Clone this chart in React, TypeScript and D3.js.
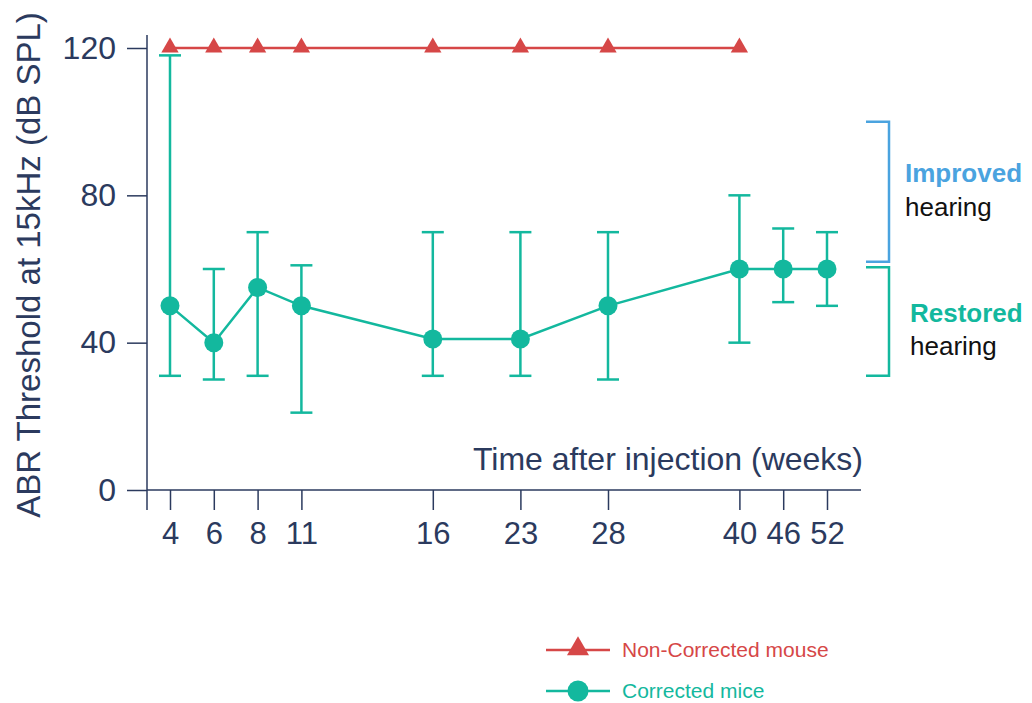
import * as d3 from 'd3';
import React, {useEffect, useRef} from 'react';

// weeks after injection, and their slot on the (uneven) x axis
const weeks = ['4', '6', '8', '11', '16', '23', '28', '40', '46', '52'];
const slots = [0, 1, 2, 3, 6, 8, 10, 13, 14, 15];

// corrected mice: mean threshold and error bar ends
const correctedMean = [50, 40, 55, 50, 41, 41, 50, 60, 60, 60];
const correctedHigh = [118, 60, 70, 61, 70, 70, 70, 80, 71, 70];
const correctedLow = [31, 30, 31, 21, 31, 31, 30, 40, 51, 50];

// non-corrected mouse
const nonCorrectedWeeks = ['4', '6', '8', '11', '16', '23', '28', '40'];
const nonCorrected = [120, 120, 120, 120, 120, 120, 120, 120];

const yTicks = [0, 40, 80, 120];

const RED = '#d64747';
const TEAL = '#13b89e';
const BLUE = '#4aa3df';
const NAVY = '#2b3a5e';
const FONT = 'Liberation Sans, Arial, sans-serif';

export default function App() {
    const ref = useRef<SVGSVGElement>(null);

    useEffect(() => {
        const svg = d3.select(ref.current);
        svg.selectAll('*').remove();

        const x = d3.scaleLinear().domain([0, 15]).range([170, 827]);
        const y = d3.scaleLinear().domain([0, 120]).range([490, 48]);
        const xOf = (w: string) => x(slots[weeks.indexOf(w)]);

        // y axis
        const yAxis = svg.append('g')
            .attr('transform', 'translate(147,0)')
            .call(d3.axisLeft(y).tickValues(yTicks).tickSize(20).tickPadding(11));
        yAxis.select('.domain').remove();
        yAxis.selectAll('line').attr('stroke', NAVY).attr('stroke-width', 1.5);
        yAxis.selectAll('text')
            .attr('fill', NAVY)
            .style('font-family', FONT)
            .style('font-size', '32px');
        svg.append('line')
            .attr('x1', 147).attr('x2', 147)
            .attr('y1', 35).attr('y2', 510)
            .attr('stroke', NAVY).attr('stroke-width', 1.5);

        // x axis
        svg.append('line')
            .attr('x1', 147).attr('x2', 861)
            .attr('y1', y(0)).attr('y2', y(0))
            .attr('stroke', NAVY).attr('stroke-width', 1.5);
        const xAxis = svg.append('g')
            .attr('transform', `translate(0,${y(0)})`)
            .call(d3.axisBottom(x).tickValues(slots)
                .tickFormat((d, i) => weeks[i]).tickSize(20).tickPadding(12));
        xAxis.select('.domain').remove();
        xAxis.selectAll('line').attr('stroke', NAVY).attr('stroke-width', 1.5);
        xAxis.selectAll('text')
            .attr('fill', NAVY)
            .style('font-family', FONT)
            .style('font-size', '31px');

        // axis titles
        svg.append('text')
            .attr('x', 863).attr('y', 470)
            .attr('text-anchor', 'end')
            .attr('fill', NAVY)
            .style('font-family', FONT)
            .style('font-size', '32px')
            .text('Time after injection (weeks)');
        svg.append('text')
            .attr('transform', 'translate(40,265) rotate(-90)')
            .attr('text-anchor', 'middle')
            .attr('fill', NAVY)
            .style('font-family', FONT)
            .style('font-size', '33px')
            .text('ABR Threshold at 15kHz (dB SPL)');

        // non-corrected line
        svg.append('path')
            .datum(nonCorrected)
            .attr('d', d3.line<number>()
                .x((d, i) => xOf(nonCorrectedWeeks[i]))
                .y((d) => y(d)))
            .attr('fill', 'none')
            .attr('stroke', RED)
            .attr('stroke-width', 2.5);

        // corrected error bars
        const bars = svg.append('g').attr('stroke', TEAL).attr('stroke-width', 2.5);
        weeks.forEach((w, i) => {
            const cx = xOf(w);
            bars.append('line')
                .attr('x1', cx).attr('x2', cx)
                .attr('y1', y(correctedHigh[i])).attr('y2', y(correctedLow[i]));
            [correctedHigh[i], correctedLow[i]].forEach((v) => {
                bars.append('line')
                    .attr('x1', cx - 11).attr('x2', cx + 11)
                    .attr('y1', y(v)).attr('y2', y(v));
            });
        });

        // corrected line + points
        svg.append('path')
            .datum(correctedMean)
            .attr('d', d3.line<number>()
                .x((d, i) => xOf(weeks[i]))
                .y((d) => y(d)))
            .attr('fill', 'none')
            .attr('stroke', TEAL)
            .attr('stroke-width', 2.5);
        svg.append('g').selectAll('circle')
            .data(correctedMean)
            .enter()
            .append('circle')
            .attr('cx', (d, i) => xOf(weeks[i]))
            .attr('cy', (d) => y(d))
            .attr('r', 9.5)
            .attr('fill', TEAL);

        // triangles on top
        const tri = d3.symbol().type(d3.symbolTriangle).size(130);
        svg.append('g').selectAll('path')
            .data(nonCorrected)
            .enter()
            .append('path')
            .attr('d', tri)
            .attr('transform', (d, i) => `translate(${xOf(nonCorrectedWeeks[i])},${y(d) - 0.5})`)
            .attr('fill', RED);

        // brackets
        svg.append('path')
            .attr('d', `M866,${y(100)}H889V${y(62)}H866`)
            .attr('fill', 'none').attr('stroke', BLUE).attr('stroke-width', 2.5);
        svg.append('path')
            .attr('d', `M866,${y(60.5)}H889V${y(31)}H866`)
            .attr('fill', 'none').attr('stroke', TEAL).attr('stroke-width', 2.5);

        const note = (tx: number, ty: number, txt: string, color: string, bold: boolean) => {
            svg.append('text')
                .attr('x', tx).attr('y', ty)
                .attr('fill', color)
                .style('font-family', FONT)
                .style('font-size', '26px')
                .style('font-weight', bold ? 'bold' : 'normal')
                .text(txt);
        };
        note(905, 182, 'Improved', BLUE, true);
        note(905, 216, 'hearing', '#111', false);
        note(910, 322, 'Restored', TEAL, true);
        note(910, 355, 'hearing', '#111', false);

        // legend
        const legend = [
            {label: 'Non-Corrected mouse', color: RED, shape: 'tri'},
            {label: 'Corrected mice', color: TEAL, shape: 'circle'},
        ];
        legend.forEach((l, i) => {
            const ly = 650 + i * 41;
            svg.append('line')
                .attr('x1', 546).attr('x2', 610)
                .attr('y1', ly).attr('y2', ly)
                .attr('stroke', l.color).attr('stroke-width', 2.5);
            if (l.shape === 'tri') {
                svg.append('path')
                    .attr('d', d3.symbol().type(d3.symbolTriangle).size(210)())
                    .attr('transform', `translate(578,${ly - 1})`)
                    .attr('fill', l.color);
            } else {
                svg.append('circle')
                    .attr('cx', 578).attr('cy', ly).attr('r', 10.5)
                    .attr('fill', l.color);
            }
            svg.append('text')
                .attr('x', 622).attr('y', ly + 7)
                .attr('fill', l.color)
                .style('font-family', FONT)
                .style('font-size', '21px')
                .text(l.label);
        });
    }, []);

    return (
        <svg
            ref={ref}
            width={1032}
            height={703}
            style={{position: 'absolute', left: 0, top: 0, background: 'white'}}
        />
    );
}
